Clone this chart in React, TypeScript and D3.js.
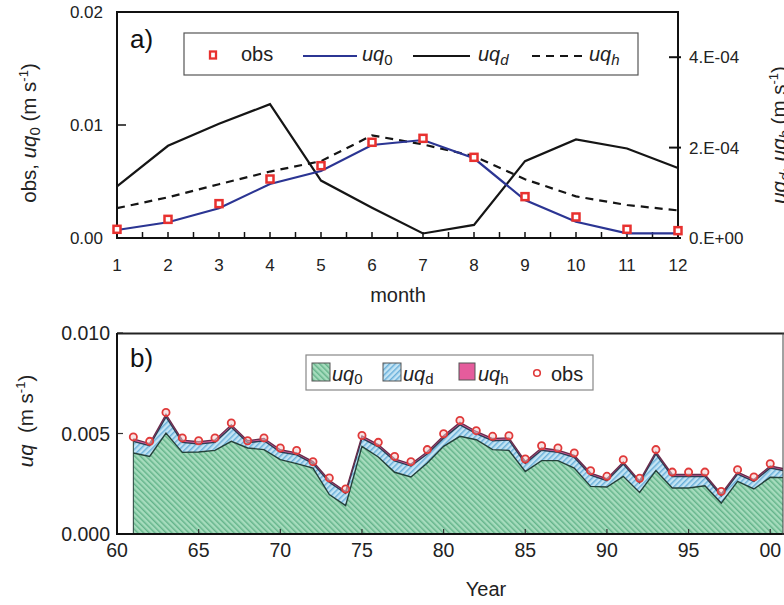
import React from "react";
import * as d3 from "d3";

// ---- panel a data (monthly climatology)
const months = [1, 2, 3, 4, 5, 6, 7, 8, 9, 10, 11, 12];
const obsA = [0.00077, 0.00165, 0.00304, 0.00522, 0.0064, 0.00847, 0.00882, 0.00714, 0.00366, 0.00186, 0.00077, 0.00065];
const uq0A = [0.00071, 0.00139, 0.00263, 0.00478, 0.00593, 0.00823, 0.00867, 0.00705, 0.00336, 0.00144, 0.00041, 0.00041];
const uqdA = [1.14e-4, 2.04e-4, 2.53e-4, 2.96e-4, 1.27e-4, 0.67e-4, 0.1e-4, 0.29e-4, 1.7e-4, 2.18e-4, 1.98e-4, 1.55e-4];
const uqhA = [0.66e-4, 0.9e-4, 1.19e-4, 1.47e-4, 1.7e-4, 2.27e-4, 2.07e-4, 1.81e-4, 1.3e-4, 0.92e-4, 0.73e-4, 0.61e-4];
const leftTicksA = [0, 0.01, 0.02];
const leftLabelsA = ["0.00", "0.01", "0.02"];
const rightTicksA = [0, 2e-4, 4e-4];
const rightLabelsA = ["0.E+00", "2.E-04", "4.E-04"];

// ---- panel b data (annual)
const years = [61, 62, 63, 64, 65, 66, 67, 68, 69, 70, 71, 72, 73, 74, 75, 76, 77, 78, 79, 80,
  81, 82, 83, 84, 85, 86, 87, 88, 89, 90, 91, 92, 93, 94, 95, 96, 97, 98, 99, 100, 101];
const uq0B = [0.00403, 0.00386, 0.00502, 0.00406, 0.00408, 0.00416, 0.00461, 0.00428, 0.0042, 0.0037,
  0.0035, 0.00328, 0.00196, 0.00141, 0.00436, 0.00383, 0.00307, 0.00284, 0.00353, 0.00436,
  0.00486, 0.00469, 0.0042, 0.00416, 0.00311, 0.00365, 0.00365, 0.00328, 0.00237, 0.00234,
  0.00287, 0.00207, 0.00316, 0.00229, 0.00229, 0.0024, 0.00154, 0.00262, 0.00224, 0.00282, 0.0028];
const uqdB = [0.00058, 0.00053, 0.00081, 0.0005, 0.0004, 0.0004, 0.0007, 0.00026, 0.00044, 0.00038,
  0.00044, 0.00022, 0.00061, 0.00061, 0.0004, 0.00051, 0.00057, 0.00054, 0.00045, 0.00041,
  0.00057, 0.0003, 0.00044, 0.00051, 0.0004, 0.00052, 0.00041, 0.00053, 0.00056, 0.00031,
  0.00061, 0.00048, 0.00082, 0.00057, 0.00057, 0.00046, 0.00036, 0.00036, 0.00038, 0.00046, 0.00033];
const uqhB = [0.00012, 0.00011, 0.00012, 0.00011, 0.00011, 0.00012, 0.00012, 0.0001, 0.00011, 0.00011,
  0.0001, 0.0001, 0.0001, 0.00009, 0.00012, 0.00011, 0.0001, 0.0001, 0.00011, 0.00012,
  0.00012, 0.00011, 0.00011, 0.00011, 0.0001, 0.00011, 0.00011, 0.0001, 0.0001, 0.0001,
  0.0001, 0.00009, 0.00011, 0.0001, 0.0001, 0.0001, 0.00009, 0.0001, 0.00009, 0.0001, 0.0001];
const obsYears = [61, 62, 63, 64, 65, 66, 67, 68, 69, 70, 71, 72, 73, 74, 75, 76, 77, 78, 79, 80,
  81, 82, 83, 84, 85, 86, 87, 88, 89, 90, 91, 92, 93, 94, 95, 96, 97, 98, 99, 100];
const obsB = [0.00483, 0.00461, 0.00605, 0.00478, 0.00464, 0.00478, 0.00552, 0.00464, 0.00478, 0.00428,
  0.00416, 0.0036, 0.00279, 0.00224, 0.0049, 0.00456, 0.00386, 0.0036, 0.0042, 0.00499,
  0.00565, 0.00514, 0.00486, 0.00489, 0.00373, 0.00439, 0.00428, 0.00403, 0.00315, 0.00287,
  0.0037, 0.00277, 0.0042, 0.00308, 0.00308, 0.00308, 0.00212, 0.0032, 0.00284, 0.0035];
const yTicksB = [0, 0.005, 0.01];
const yLabelsB = ["0.000", "0.005", "0.010"];
const xTicksB = [60, 65, 70, 75, 80, 85, 90, 95, 100];
const xLabelsB = ["60", "65", "70", "75", "80", "85", "90", "95", "00"];

const FONT = "'Liberation Sans', Arial, Helvetica, sans-serif";
const BLUE = "#2b3593";
const RED = "#e8312f";

export default function App() {
  // panel a scales
  const xA = d3.scaleLinear().domain([1, 12]).range([117, 678]);
  const yL = d3.scaleLinear().domain([0, 0.02]).range([238, 12]);
  const yR = d3.scaleLinear().domain([0, 5e-4]).range([238, 12]);

  const lineL = d3.line<number>().x((d, i) => xA(months[i])).y(d => yL(d));
  const lineR = d3.line<number>().x((d, i) => xA(months[i])).y(d => yR(d));
  const halfMonths = d3.range(1, 12.01, 0.5);

  // panel b scales
  const xB = d3.scaleLinear().domain([60, 100.8]).range([117, 783.3]);
  const yB = d3.scaleLinear().domain([0, 0.01]).range([534, 333]);
  const rows = years.map((y, i) => ({ year: y, uq0: uq0B[i], uqd: uqdB[i], uqh: uqhB[i] }));
  const stack = d3.stack<any>().keys(["uq0", "uqd", "uqh"])(rows);
  const area = d3.area<any>()
    .x(d => xB(d.data.year))
    .y0(d => yB(d[0]))
    .y1(d => yB(d[1]));
  const topLine = d3.line<any>().x(d => xB(d.data.year)).y(d => yB(d[1]));
  const fills = ["url(#hatchGreen)", "url(#hatchBlue)", "#e55c9c"];
  const edgeColors = ["#24403a", "#2c3e52", "#6a2d4d"];

  return (
    <svg width={784} height={605} style={{ position: "absolute", left: 0, top: 0, background: "#fff" }}
      fontFamily={FONT}>
      <defs>
        <pattern id="hatchGreen" width={4} height={4} patternUnits="userSpaceOnUse" patternTransform="rotate(-45)">
          <rect width={4} height={4} fill="#a6dcbd" />
          <line x1={0.8} y1={0} x2={0.8} y2={4} stroke="#4ea77a" strokeWidth={1.1} />
        </pattern>
        <pattern id="hatchBlue" width={4} height={4} patternUnits="userSpaceOnUse" patternTransform="rotate(45)">
          <rect width={4} height={4} fill="#c4e4f4" />
          <line x1={0.8} y1={0} x2={0.8} y2={4} stroke="#4c9fd2" strokeWidth={1.1} />
        </pattern>
        <clipPath id="clipB">
          <rect x={117} y={333} width={666} height={201} />
        </clipPath>
      </defs>

      {/* ================= panel a ================= */}
      <g>
        {halfMonths.map(m => (
          <line key={"hm" + m} x1={xA(m)} x2={xA(m)} y1={238} y2={232} stroke="#111" strokeWidth={1.5} />
        ))}
        {leftTicksA.map(t => (
          <line key={"lt" + t} x1={117} x2={126} y1={yL(t)} y2={yL(t)} stroke="#111" strokeWidth={1.5} />
        ))}
        {rightTicksA.map(t => (
          <line key={"rt" + t} x1={669} x2={681} y1={yR(t)} y2={yR(t)} stroke="#111" strokeWidth={2} />
        ))}
        <rect x={117} y={12} width={561} height={226} fill="none" stroke="#111" strokeWidth={2} />

        <path d={lineR(uqdA) ?? ""} fill="none" stroke="#151515" strokeWidth={2.2} />
        <path d={lineR(uqhA) ?? ""} fill="none" stroke="#151515" strokeWidth={2.2} strokeDasharray="8,6" />
        <path d={lineL(uq0A) ?? ""} fill="none" stroke={BLUE} strokeWidth={2.2} />
        {obsA.map((v, i) => (
          <rect key={"oa" + i} x={xA(months[i]) - 3.5} y={yL(v) - 3.5} width={7} height={7}
            fill="#fff" stroke={RED} strokeWidth={2.5} />
        ))}

        {leftLabelsA.map((l, i) => (
          <text key={"ll" + i} x={103} y={yL(leftTicksA[i]) + 6} textAnchor="end" fontSize={17} fill="#222">{l}</text>
        ))}
        {rightLabelsA.map((l, i) => (
          <text key={"rl" + i} x={689} y={yR(rightTicksA[i]) + 6} fontSize={17} fill="#222">{l}</text>
        ))}
        {months.map(m => (
          <text key={"ml" + m} x={xA(m)} y={271} textAnchor="middle" fontSize={17} fill="#222">{m}</text>
        ))}
        <text x={398} y={302} textAnchor="middle" fontSize={20} fill="#222">month</text>
        <text x={130} y={48} fontSize={26} fill="#111">a)</text>

        <text transform="translate(36,133) rotate(-90)" textAnchor="middle" fontSize={20.5} fill="#222">
          obs, <tspan fontStyle="italic">uq</tspan><tspan fontSize={15} dy={4}>0</tspan>
          <tspan dy={-4}> (m s</tspan><tspan fontSize={13} dy={-8}>-1</tspan><tspan dy={8}>)</tspan>
        </text>
        <text transform="translate(786,135) rotate(-90)" textAnchor="middle" fontSize={20.5} fill="#222">
          <tspan fontStyle="italic">uq</tspan><tspan fontStyle="italic" fontSize={15} dy={4}>d</tspan>
          <tspan dy={-4}>, </tspan><tspan fontStyle="italic">uq</tspan><tspan fontStyle="italic" fontSize={15} dy={4}>h</tspan>
          <tspan dy={-4}> (m s</tspan><tspan fontSize={13} dy={-8}>-1</tspan><tspan dy={8}>)</tspan>
        </text>

        <rect x={184} y={33} width={454} height={42} fill="#fff" stroke="#555" strokeWidth={1.2} />
        <rect x={210} y={51.5} width={6} height={7} fill="#fff" stroke={RED} strokeWidth={2.3} />
        <text x={241} y={61} fontSize={20} fill="#222">obs</text>
        <line x1={303} x2={357} y1={56} y2={56} stroke={BLUE} strokeWidth={2.2} />
        <text x={362} y={61} fontSize={20} fill="#222">
          <tspan fontStyle="italic">uq</tspan><tspan fontSize={15} dy={4}>0</tspan>
        </text>
        <line x1={413} x2={470} y1={56} y2={56} stroke="#151515" strokeWidth={2.2} />
        <text x={478} y={61} fontSize={20} fill="#222">
          <tspan fontStyle="italic">uq</tspan><tspan fontStyle="italic" fontSize={15} dy={4}>d</tspan>
        </text>
        <line x1={532} x2={582} y1={56} y2={56} stroke="#151515" strokeWidth={2.2} strokeDasharray="8,6" />
        <text x={589} y={61} fontSize={20} fill="#222">
          <tspan fontStyle="italic">uq</tspan><tspan fontStyle="italic" fontSize={15} dy={4}>h</tspan>
        </text>
      </g>

      {/* ================= panel b ================= */}
      <g>
        <g clipPath="url(#clipB)">
          {stack.map((s, i) => (
            <path key={"ar" + i} d={area(s) ?? ""} fill={fills[i]} stroke="none" />
          ))}
          {stack.map((s, i) => (
            <path key={"tl" + i} d={topLine(s) ?? ""} fill="none" stroke={edgeColors[i]} strokeWidth={1.4} />
          ))}
          <line x1={xB(61)} x2={xB(61)} y1={534} y2={yB(uq0B[0] + uqdB[0] + uqhB[0])} stroke="#24403a" strokeWidth={1} />
          {obsB.map((v, i) => (
            <circle key={"ob" + i} cx={xB(obsYears[i])} cy={yB(v)} r={3.6} fill="#f4c9c9" fillOpacity={0.5}
              stroke="#e03a3a" strokeWidth={1.8} />
          ))}
        </g>
        {xTicksB.map(t => (
          <line key={"xt" + t} x1={xB(t)} x2={xB(t)} y1={534} y2={529} stroke="#333" strokeWidth={1.2} />
        ))}
        {yTicksB.map(t => (
          <line key={"yt" + t} x1={117} x2={123} y1={yB(t)} y2={yB(t)} stroke="#333" strokeWidth={1.2} />
        ))}
        <line x1={117} x2={784} y1={333.5} y2={333.5} stroke="#222" strokeWidth={2} />
        <line x1={117} x2={784} y1={534} y2={534} stroke="#111" strokeWidth={2} />
        <line x1={117} x2={117} y1={333} y2={535} stroke="#111" strokeWidth={2} />
        <line x1={783} x2={783} y1={333} y2={535} stroke="#444" strokeWidth={1} />

        {yLabelsB.map((l, i) => (
          <text key={"yl" + i} x={110} y={yB(yTicksB[i]) + 7} textAnchor="end" fontSize={19.5} fill="#222">{l}</text>
        ))}
        {xLabelsB.map((l, i) => (
          <text key={"xl" + i} x={xB(xTicksB[i])} y={557} textAnchor="middle" fontSize={19.5} fill="#222">{l}</text>
        ))}
        <text x={486} y={596} textAnchor="middle" fontSize={20} fill="#222">Year</text>
        <text x={130} y={367} fontSize={26} fill="#111">b)</text>
        <text transform="translate(33,421) rotate(-90)" textAnchor="middle" fontSize={20.5} fill="#222">
          <tspan fontStyle="italic">uq</tspan><tspan>{"\u00a0\u00a0(m\u00a0s"}</tspan>
          <tspan fontSize={13} dy={-8}>-1</tspan><tspan dy={8}>)</tspan>
        </text>

        <rect x={306} y={355} width={287} height={35} fill="#fff" stroke="#888" strokeWidth={1.2} />
        <rect x={312} y={363} width={18} height={18} fill="url(#hatchGreen)" stroke="#555" strokeWidth={1} />
        <text x={332} y={381} fontSize={20} fill="#222">
          <tspan fontStyle="italic">uq</tspan><tspan fontSize={15} dy={3}>0</tspan>
        </text>
        <rect x={383} y={363} width={18} height={18} fill="url(#hatchBlue)" stroke="#555" strokeWidth={1} />
        <text x={403} y={381} fontSize={20} fill="#222">
          <tspan fontStyle="italic">uq</tspan><tspan fontSize={15} dy={3}>d</tspan>
        </text>
        <rect x={459} y={363} width={16} height={17} fill="#e55c9c" stroke="#555" strokeWidth={1} />
        <text x={478} y={381} fontSize={20} fill="#222">
          <tspan fontStyle="italic">uq</tspan><tspan fontSize={15} dy={3}>h</tspan>
        </text>
        <circle cx={537} cy={373} r={3.3} fill="#fff" stroke="#e03a3a" strokeWidth={1.6} />
        <text x={551} y={381} fontSize={20} fill="#222">obs</text>
      </g>
    </svg>
  );
}
